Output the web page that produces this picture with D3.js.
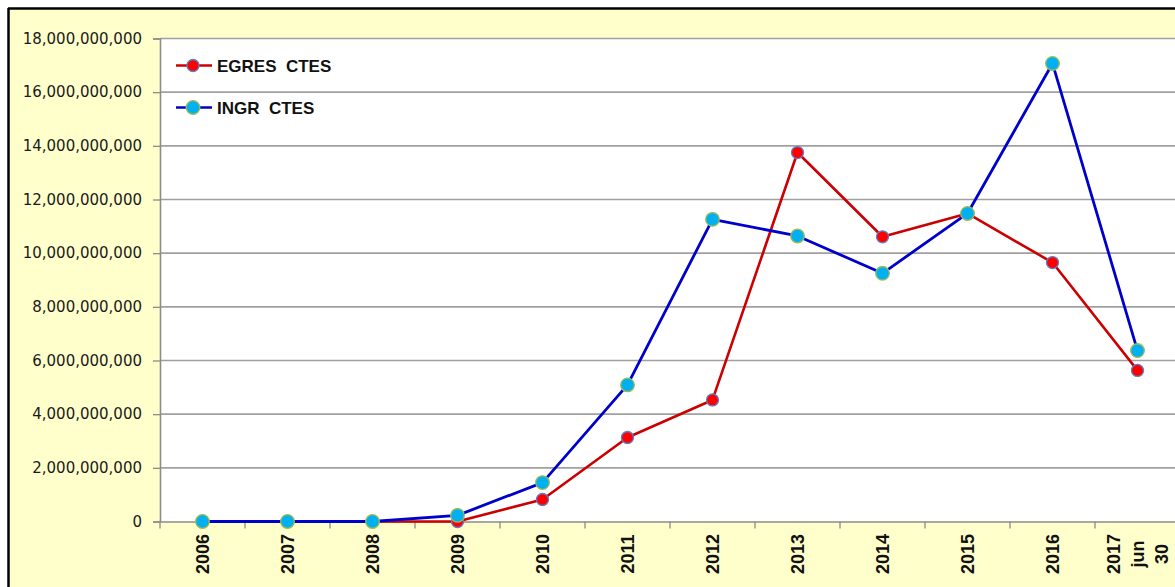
<!DOCTYPE html>
<html>
<head>
<meta charset="utf-8">
<script src="https://cdn.jsdelivr.net/npm/d3@7"></script>
<style>
  html, body { margin: 0; padding: 0; background: #ffffff; }
  svg { display: block; }
</style>
</head>
<body>
<svg id="chart" width="1175" height="587"></svg>
<script>
// ---- data ----
const categories = ["2006", "2007", "2008", "2009", "2010", "2011", "2012", "2013", "2014", "2015", "2016", "2017\njun\n30"];
const egresCtes = [0, 0, 0, 0, 820000000, 3130000000, 4530000000, 13750000000, 10610000000, 11480000000, 9650000000, 5630000000];
const ingrCtes  = [0, 0, 0, 230000000, 1450000000, 5090000000, 11260000000, 10640000000, 9250000000, 11480000000, 17070000000, 6370000000];
const yTicks = [0, 2000000000, 4000000000, 6000000000, 8000000000, 10000000000, 12000000000, 14000000000, 16000000000, 18000000000];
const seriesNames = ["EGRES  CTES", "INGR  CTES"];

const svg = d3.select("#chart");
const W = 1175, H = 587;
const plot = { left: 160, top: 38.5, right: 1180, bottom: 521.5 };

// outer chart area
svg.append("rect").attr("x", 0).attr("y", 0).attr("width", W).attr("height", H).attr("fill", "#ffffff");
svg.append("rect").attr("x", 8).attr("y", 8).attr("width", W).attr("height", H).attr("fill", "#FFFFCC");
svg.append("line").attr("x1", 8).attr("x2", W).attr("y1", 8.5).attr("y2", 8.5).attr("stroke", "#000").attr("stroke-width", 2.5);
svg.append("line").attr("x1", 8.5).attr("x2", 8.5).attr("y1", 8).attr("y2", H).attr("stroke", "#000").attr("stroke-width", 2.5);

// plot area
svg.append("rect").attr("x", plot.left).attr("y", plot.top)
  .attr("width", plot.right - plot.left).attr("height", plot.bottom - plot.top).attr("fill", "#ffffff");

const x = d3.scaleBand().domain(categories).range([plot.left, plot.right]).padding(0);
const y = d3.scaleLinear().domain([0, 18000000000]).range([plot.bottom, plot.top]);
const cx = d => x(d) + x.bandwidth() / 2;

// gridlines
svg.append("g").selectAll("line").data(yTicks.filter(t => t > 0)).join("line")
  .attr("x1", plot.left).attr("x2", plot.right)
  .attr("y1", d => y(d)).attr("y2", d => y(d))
  .attr("stroke", "#A0A0A0").attr("stroke-width", 1.6);

// y axis
const yAxis = svg.append("g").attr("transform", `translate(${plot.left},0)`)
  .call(d3.axisLeft(y).tickValues(yTicks).tickSize(7).tickPadding(11)
    .tickFormat(d => d3.format(",")(d)));
yAxis.select(".domain").attr("stroke", "#8C8C8C").attr("stroke-width", 1.6);
yAxis.selectAll(".tick line").attr("stroke", "#8C8C8C").attr("stroke-width", 1.3);
yAxis.selectAll(".tick text").attr("font-family", "DejaVu Sans, sans-serif").attr("font-size", 15).attr("fill", "#1a1a1a");

// x axis
const xAxis = svg.append("g").attr("transform", `translate(0,${plot.bottom})`)
  .call(d3.axisBottom(x).tickSize(0).tickFormat(""));
xAxis.select(".domain").attr("stroke", "#8C8C8C").attr("stroke-width", 1.6);
// boundary ticks
svg.append("g").selectAll("line").data(d3.range(categories.length + 1)).join("line")
  .attr("x1", i => plot.left + i * x.bandwidth()).attr("x2", i => plot.left + i * x.bandwidth())
  .attr("y1", plot.bottom).attr("y2", plot.bottom + 7)
  .attr("stroke", "#8C8C8C").attr("stroke-width", 1.3);

// x labels (rotated)
const labG = svg.append("g");
categories.forEach(c => {
  const lines = c.split("\n");
  const n = lines.length;
  lines.forEach((ln, i) => {
    const lx = cx(c) + (i - (n - 1) / 2) * 24;
    labG.append("text")
      .attr("transform", `translate(${lx},554) rotate(-90)`)
      .attr("text-anchor", "middle").attr("dy", "0.36em")
      .attr("font-family", "Liberation Sans, Arial, sans-serif").attr("font-weight", "bold")
      .attr("font-size", 18).attr("fill", "#111")
      .text(ln);
  });
});

// lines
const lineGen = d3.line().x((d, i) => cx(categories[i])).y(d => y(d));
svg.append("path").datum(egresCtes).attr("d", lineGen)
  .attr("fill", "none").attr("stroke", "#CC0000").attr("stroke-width", 2.6).attr("stroke-linejoin", "round");
svg.append("path").datum(ingrCtes).attr("d", lineGen)
  .attr("fill", "none").attr("stroke", "#0000CC").attr("stroke-width", 2.8).attr("stroke-linejoin", "round");

// markers
svg.append("g").selectAll("circle").data(egresCtes).join("circle")
  .attr("cx", (d, i) => cx(categories[i])).attr("cy", d => y(d)).attr("r", 6)
  .attr("fill", "#FF0000").attr("stroke", "#5B7FC8").attr("stroke-width", 1.3);
svg.append("g").selectAll("circle").data(ingrCtes).join("circle")
  .attr("cx", (d, i) => cx(categories[i])).attr("cy", d => y(d)).attr("r", 6.8)
  .attr("fill", "#00B0F0").attr("stroke", "#9BBB59").attr("stroke-width", 1.3);

// legend
const legend = [
  { name: seriesNames[0], line: "#CC0000", fill: "#FF0000", stroke: "#5B7FC8", r: 6, y: 65.5 },
  { name: seriesNames[1], line: "#0000CC", fill: "#00B0F0", stroke: "#9BBB59", r: 6.8, y: 107.5 }
];
legend.forEach(l => {
  svg.append("line").attr("x1", 176).attr("x2", 212).attr("y1", l.y).attr("y2", l.y)
    .attr("stroke", l.line).attr("stroke-width", 2.6);
  svg.append("circle").attr("cx", 193).attr("cy", l.y).attr("r", l.r)
    .attr("fill", l.fill).attr("stroke", l.stroke).attr("stroke-width", 1.3);
  svg.append("text").attr("x", 217).attr("y", l.y).attr("dy", "0.36em")
    .attr("font-family", "Liberation Sans, Arial, sans-serif").attr("font-weight", "bold")
    .attr("font-size", 17).attr("fill", "#111").style("white-space", "pre")
    .text(l.name);
});
</script>
</body>
</html>
